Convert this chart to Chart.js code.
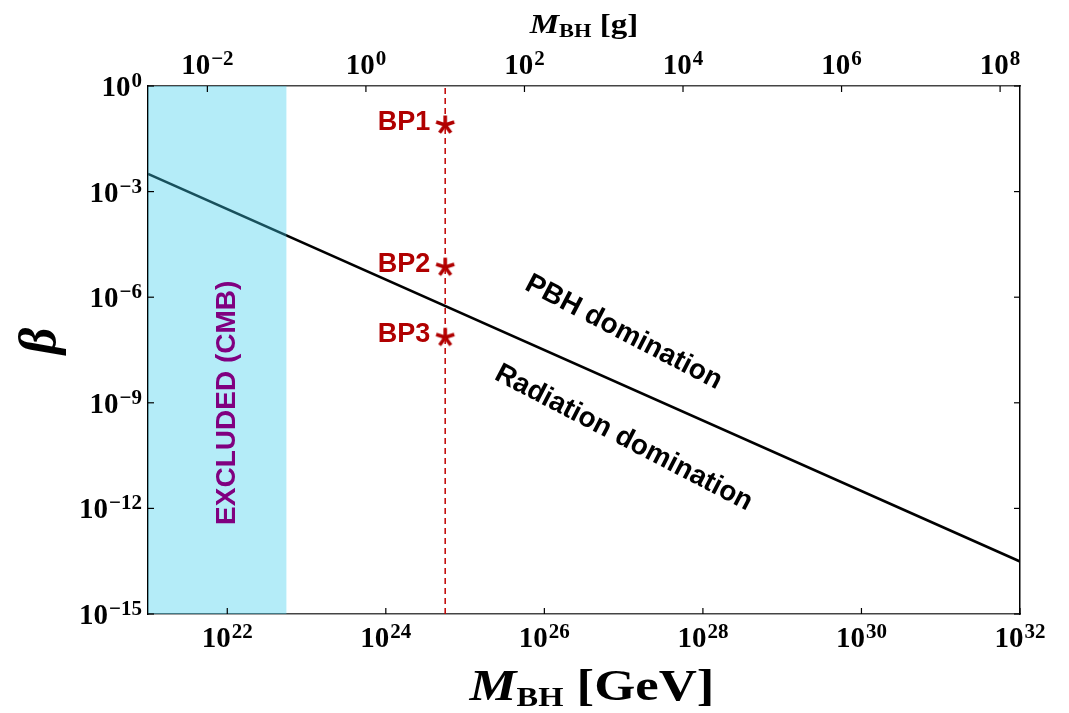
<!DOCTYPE html>
<html>
<head>
<meta charset="utf-8">
<script src="https://cdn.jsdelivr.net/npm/chart.js@4.4.1/dist/chart.umd.min.js"></script>
<style>
  html, body { margin: 0; padding: 0; background: #fff; }
  #wrap { width: 1069px; height: 713px; }
</style>
</head>
<body>
<div id="wrap"><canvas id="pbhChart"></canvas></div>
<script>
// 1 g in GeV, used for the top axis
const GEV_PER_GRAM = 5.61e23;

// boundary between PBH and radiation domination
const boundaryMass = [1e21, 1e32];
const boundaryBeta = [3.2e-3, 3.1e-14];

// CMB excluded region (M < 0.1 g)
const cmbMass = [1e21, 5.61e22];

// benchmark points at M = 10 g
const bpNames = ["BP1", "BP2", "BP3"];
const bpMass = [5.61e24, 5.61e24, 5.61e24];
const bpBeta = [7.8e-2, 7.1e-6, 7.2e-8];

// tick values
const xTicks = [1e22, 1e24, 1e26, 1e28, 1e30, 1e32];
const gramTicks = [1e-2, 1, 1e2, 1e4, 1e6, 1e8];
const yTicks = [1, 1e-3, 1e-6, 1e-9, 1e-12, 1e-15];

const SERIF = '"Liberation Serif", "Times New Roman", serif';
const SANS = '"Liberation Sans", Arial, sans-serif';
const DARK_RED = "#b00000";

// asterisk marker like the one in the plot
function asterisk(color) {
  const c = document.createElement("canvas");
  c.width = 24; c.height = 24;
  const g = c.getContext("2d");
  g.strokeStyle = color;
  g.lineWidth = 3.6;
  g.translate(12, 12);
  for (let k = 0; k < 5; k++) {
    const a = -Math.PI / 2 + k * 2 * Math.PI / 5;
    g.beginPath();
    g.moveTo(0, 0);
    g.lineTo(9.5 * Math.cos(a), 9.5 * Math.sin(a));
    g.stroke();
  }
  return c;
}

function logAxis(position, min, max, ticksArr, size) {
  const horizontal = position === "top" || position === "bottom";
  return {
    type: "logarithmic",
    position: position,
    min: min,
    max: max,
    ticks: { display: false },
    grid: { display: false },
    border: { display: true, color: horizontal ? "#444" : "#000", width: 1.5 },
    afterBuildTicks: s => { s.ticks = ticksArr.map(v => ({ value: v })); },
    afterFit: s => { if (horizontal) s.height = size; else s.width = size; }
  };
}

// "10" with a superscript exponent
function powLabel(ctx, v, x, cy, align) {
  const base = "10";
  const sup = String(Math.round(Math.log10(v))).replace("-", "\u2212");
  ctx.font = "bold 29px " + SERIF;
  const wb = ctx.measureText(base).width;
  ctx.font = "bold 21px " + SERIF;
  const ws = ctx.measureText(sup).width;
  const w = wb + 1 + ws;
  const x0 = align === "right" ? x - w : x - w / 2;
  ctx.textAlign = "left";
  ctx.textBaseline = "alphabetic";
  ctx.font = "bold 29px " + SERIF;
  ctx.fillText(base, x0, cy + 10);
  ctx.font = "bold 21px " + SERIF;
  ctx.fillText(sup, x0 + wb + 1, cy + 1);
}

// M_BH [unit], a little wider than tall as in the original
function massTitle(ctx, cx, baseline, big, small, unit, stretch) {
  const parts = [
    { t: "M", f: "italic bold " + big + "px " + SERIF, dy: 0 },
    { t: "BH", f: "bold " + small + "px " + SERIF, dy: small * 0.22 },
    { t: " " + unit, f: "bold " + big + "px " + SERIF, dy: 0 }
  ];
  let total = 0;
  parts.forEach(p => { ctx.font = p.f; p.w = ctx.measureText(p.t).width; total += p.w; });
  ctx.save();
  ctx.translate(cx, baseline);
  ctx.scale(stretch, 1);
  let x = -total / 2;
  ctx.textAlign = "left";
  ctx.textBaseline = "alphabetic";
  parts.forEach(p => { ctx.font = p.f; ctx.fillText(p.t, x, p.dy); x += p.w; });
  ctx.restore();
}

function rotatedText(ctx, text, x, y, angle, font, color) {
  ctx.save();
  ctx.translate(x, y);
  ctx.rotate(angle);
  ctx.font = font;
  ctx.fillStyle = color;
  ctx.textAlign = "center";
  ctx.textBaseline = "middle";
  ctx.fillText(text, 0, 0);
  ctx.restore();
}

const decor = {
  id: "decor",
  afterDraw(chart) {
    const { ctx, chartArea: a, scales } = chart;
    const x = scales.x, y = scales.y, xg = scales.xg;
    ctx.save();

    // inward ticks
    ctx.strokeStyle = "#000";
    ctx.lineWidth = 1.2;
    const seg = (x1, y1, x2, y2) => { ctx.beginPath(); ctx.moveTo(x1, y1); ctx.lineTo(x2, y2); ctx.stroke(); };
    xTicks.forEach(v => { const p = x.getPixelForValue(v); seg(p, a.bottom, p, a.bottom - 6); });
    gramTicks.forEach(v => { const p = xg.getPixelForValue(v); seg(p, a.top, p, a.top + 6); });
    yTicks.forEach(v => {
      const p = y.getPixelForValue(v);
      seg(a.left, p, a.left + 6, p);
      seg(a.right, p, a.right - 6, p);
    });

    // tick labels
    ctx.fillStyle = "#000";
    xTicks.forEach(v => powLabel(ctx, v, x.getPixelForValue(v), a.bottom + 23, "center"));
    gramTicks.forEach(v => powLabel(ctx, v, xg.getPixelForValue(v), a.top - 22, "center"));
    yTicks.forEach(v => powLabel(ctx, v, a.left - 6, y.getPixelForValue(v), "right"));

    // axis titles
    massTitle(ctx, (a.left + a.right) / 2 + 8, 700, 44, 27, "[GeV]", 1.2);
    massTitle(ctx, (a.left + a.right) / 2, 33, 28, 19, "[g]", 1.18);
    rotatedText(ctx, "\u03b2", 42, 341, -Math.PI / 2, "italic bold 52px " + SERIF, "#000");

    // benchmark labels
    ctx.font = "bold 27px " + SANS;
    ctx.fillStyle = DARK_RED;
    ctx.textAlign = "right";
    ctx.textBaseline = "alphabetic";
    bpNames.forEach((n, i) => {
      ctx.fillText(n, x.getPixelForValue(bpMass[i]) - 15, y.getPixelForValue(bpBeta[i]) + 5);
    });

    // region labels
    const ang = 27.5 * Math.PI / 180;
    rotatedText(ctx, "PBH domination", x.getPixelForValue(1e27), y.getPixelForValue(1e-7), ang, "bold 28px " + SANS, "#000");
    rotatedText(ctx, "Radiation domination", x.getPixelForValue(1e27), y.getPixelForValue(1e-10), ang, "bold 28px " + SANS, "#000");
    rotatedText(ctx, "EXCLUDED (CMB)", x.getPixelForValue(1e22), y.getPixelForValue(1e-9), -Math.PI / 2, "bold 28px " + SANS, "#800080");

    ctx.restore();
  }
};

new Chart(document.getElementById("pbhChart"), {
  type: "line",
  data: {
    datasets: [
      {
        label: "Excluded (CMB)",
        data: cmbMass.map(m => ({ x: m, y: 1 })),
        borderColor: "rgba(0,0,0,0)",
        borderWidth: 1,
        backgroundColor: "rgba(62,205,236,0.39)",
        fill: "start",
        pointRadius: 0
      },
      {
        label: "boundary",
        data: boundaryMass.map((m, i) => ({ x: m, y: boundaryBeta[i] })),
        borderColor: "#000",
        borderWidth: 2.6,
        pointRadius: 0,
        fill: false
      },
      {
        label: "M = 10 g",
        data: [{ x: bpMass[0], y: 1e-15 }, { x: bpMass[0], y: 1 }],
        borderColor: "#c00000",
        borderWidth: 1.5,
        borderDash: [6, 4],
        pointRadius: 0,
        fill: false
      },
      {
        label: "benchmarks",
        data: bpMass.map((m, i) => ({ x: m, y: bpBeta[i] })),
        showLine: false,
        pointStyle: asterisk(DARK_RED),
        pointRadius: 10,
        fill: false
      }
    ]
  },
  options: {
    responsive: true,
    maintainAspectRatio: false,
    animation: false,
    layout: { padding: 0 },
    plugins: { legend: { display: false }, tooltip: { enabled: false } },
    scales: {
      x: logAxis("bottom", boundaryMass[0], boundaryMass[1], xTicks, 99),
      xg: logAxis("top", boundaryMass[0] / GEV_PER_GRAM, boundaryMass[1] / GEV_PER_GRAM, gramTicks, 86),
      y: logAxis("left", 1e-15, 1, yTicks, 148),
      yr: logAxis("right", 1e-15, 1, yTicks, 49)
    }
  },
  plugins: [decor]
});
</script>
</body>
</html>
